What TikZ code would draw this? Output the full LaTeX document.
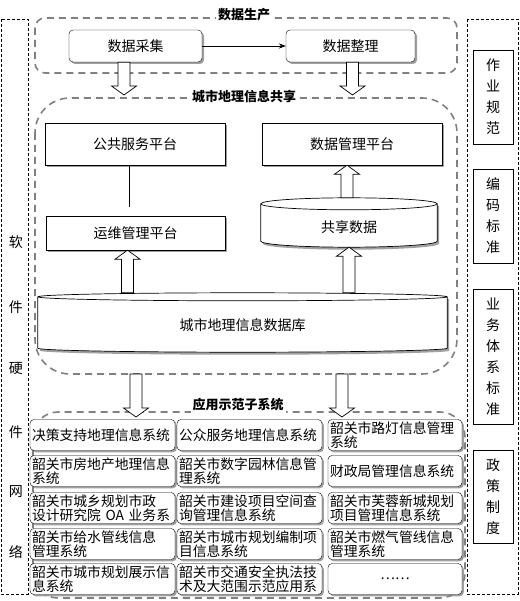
\documentclass[tikz,border=0pt]{standalone}
\usepackage{fontspec}
\setmainfont{Noto Sans CJK SC}
\usepackage{tikz}
\usetikzlibrary{arrows.meta, calc, shadows}
\definecolor{framegray}{RGB}{128,128,128}
\definecolor{shadegray}{RGB}{120,120,120}
\newcommand{\boxfont}{\fontsize{14}{15}\selectfont}
\newcommand{\appfont}{\fontsize{13.8}{13.5}\selectfont}
\newcommand{\titlefont}{\fontsize{13}{14}\selectfont\bfseries}
\newcommand{\stdfont}{\fontsize{14}{21}\selectfont}
\tikzset{
  procbox/.style={rectangle, rounded corners=4pt, draw=black, fill=white,
                  drop shadow={shadow xshift=2pt, shadow yshift=-2pt, fill=shadegray, opacity=.7},
                  minimum height=32pt, font=\boxfont},
  platbox/.style={rectangle, draw=black, fill=white,
                  drop shadow={shadow xshift=2pt, shadow yshift=-2pt, fill=shadegray, opacity=.7},
                  minimum width=180pt, font=\boxfont},
  appbox/.style={rectangle, rounded corners=4pt, draw=black, fill=white,
                 drop shadow={shadow xshift=1.8pt, shadow yshift=-1.8pt, fill=shadegray, opacity=.7},
                 minimum height=31pt, inner xsep=2pt, inner ysep=1pt,
                 align=left, font=\appfont},
  widecol/.style={appbox, text width=141pt},
  narrowcol/.style={appbox, text width=130pt},
  stdbox/.style={rectangle, draw=black, fill=white, minimum width=40pt,
                 align=center, font=\stdfont},
  cylbase/.style={rectangle, minimum width=#1, font=\boxfont},
  grpframe/.style={draw=framegray, line width=1.6pt, dash pattern=on 7pt off 5pt},
  sideframe/.style={draw=black, line width=0.7pt, dash pattern=on 3pt off 2pt},
  grptitle/.style={fill=white, font=\titlefont, inner sep=2pt},
  sidechar/.style={font=\boxfont, inner sep=0pt},
  fatarr/.style={draw=black, fill=white, line width=0.7pt, line join=miter},
  cylline/.style={draw=black, fill=white, line width=0.7pt,
                  drop shadow={shadow xshift=2pt, shadow yshift=-2.5pt, fill=shadegray, opacity=.7}},
  arr/.style={-{Stealth[length=7pt]}, line width=0.7pt},
}
% hollow block arrow between two named points (vertical)
\newcommand{\fatarrow}[2]{%
  \draw[fatarr] let \p1=(#1), \p2=(#2), \p3=($(#2)!9pt!(#1)$) in
    (\x1-6pt,\y1) -- (\x1-6pt,\y3) -- (\x1-12.5pt,\y3) -- (\x2,\y2)
    -- (\x1+12.5pt,\y3) -- (\x1+6pt,\y3) -- (\x1+6pt,\y1) -- cycle;}
% cylinder outline round a named node, #2 = half height of the ellipse
\newcommand{\cylinderbody}[2]{%
  \draw[cylline] let \p1=(#1.north west), \p2=(#1.south east), \n1={(\x2-\x1)/2} in
    (\x1,\y1) -- (\x1,\y2) arc[start angle=180, end angle=360, x radius=\n1, y radius=#2pt]
    -- (\x2,\y1) arc[start angle=0, end angle=180, x radius=\n1, y radius=#2pt] -- cycle
    (\x1,\y1) arc[start angle=180, end angle=360, x radius=\n1, y radius=#2pt];}

\begin{document}
\begin{tikzpicture}[x=1pt, y=-1pt]
  \useasboundingbox (0,0) rectangle (519,601);

  % side frames
  \draw[sideframe] (1,19) rectangle (28,594);
  \draw[sideframe] (467,19) rectangle (518,594);
  \foreach \ch/\yy in {软/242, 件/307, 硬/368, 件/432, 网/492, 络/552}
    \node[sidechar] (side-\yy) at (16,\yy) {\ch};

  % standards column
  \node[stdbox, minimum height=94pt]  (std-work)  at (493,97)    {作\\业\\规\\范};
  \node[stdbox, minimum height=94pt]  (std-code)  at (493,216)   {编\\码\\标\\准};
  \node[stdbox, minimum height=135pt] (std-biz)   at (493,356.5) {业\\务\\体\\系\\标\\准};
  \node[stdbox, minimum height=93pt]  (std-pol)   at (493,496.5) {政\\策\\制\\度};

  % group frames
  \draw[grpframe, rounded corners=10pt] (35,18) rectangle (457,73);
  \draw[grpframe, rounded corners=35pt] (35,98) rectangle (457,374);
  \draw[grpframe, rounded corners=25pt] (33,412) rectangle (465,598);
  \node[grptitle] (t-prod)  at (244,15)  {数据生产};
  \node[grptitle] (t-share) at (244,97)  {城市地理信息共享};
  \node[grptitle] (t-app)   at (238,405) {应用示范子系统};

  % data production
  \node[procbox, minimum width=133pt] (collect) at (135.5,46) {数据采集};
  \node[procbox, minimum width=129pt] (arrange) at (350.5,46) {数据整理};
  \draw[arr] (collect) -- (arrange);

  % sharing platform
  \node[platbox, minimum height=42pt] (pub)    at (135,144)   {公共服务平台};
  \node[platbox, minimum height=42pt] (manage) at (352,144)   {数据管理平台};
  \node[platbox, minimum height=34pt, minimum width=179pt] (ops) at (135.5,233) {运维管理平台};
  \draw[line width=0.7pt] ([xshift=-6pt]pub.south) -- ([xshift=-6.5pt,yshift=9pt]ops.north);

  \node[cylbase=176pt, minimum height=37pt] (share) at (349,222.5) {};
  \cylinderbody{share}{6}
  \node[font=\boxfont] (share-txt) at (349,227) {共享数据};

  \node[cylbase=409pt, minimum height=51pt] (db) at (242.5,322.5) {};
  \cylinderbody{db}{4}
  \node[font=\boxfont] (db-txt) at (242.5,325) {城市地理信息数据库};

  % block arrows
  \coordinate (c-down-l) at ([xshift=-11.5pt]collect.south);
  \coordinate (c-tip-l)  at (124,95);
  \coordinate (c-down-r) at ([xshift=2pt]arrange.south);
  \coordinate (c-tip-r)  at (352.5,95);
  \fatarrow{c-down-l}{c-tip-l}
  \fatarrow{c-down-r}{c-tip-r}

  \coordinate (s-up)     at ($(share.north)+(-2,-6)$);
  \coordinate (m-in)     at ([xshift=-5pt]manage.south);
  \fatarrow{s-up}{m-in}
  \coordinate (db-up-l)  at ($(db.north)+(-115,-4)$);
  \coordinate (ops-in)   at ([xshift=-8pt]ops.south);
  \fatarrow{db-up-l}{ops-in}
  \coordinate (db-up-r)  at ($(db.north -| share.south)+(0,-4)$);
  \coordinate (share-in) at ($(share.south)+(0,6)$);
  \fatarrow{db-up-r}{share-in}

  \coordinate (out-l) at (136,374);
  \coordinate (app-l) at (136,417);
  \coordinate (out-r) at (342,374);
  \coordinate (app-r) at (342,417);
  \fatarrow{out-l}{app-l}
  \fatarrow{out-r}{app-r}

  % application systems
  \node[widecol]   (a11) at (102.5,435) {决策支持地理信息系统};
  \node[widecol]   (a12) at (249.5,435) {公众服务地理信息系统};
  \node[narrowcol] (a13) at (395,435)   {韶关市路灯信息管理\\系统};
  \node[widecol]   (a21) at (102.5,471) {韶关市房地产地理信息\\系统};
  \node[widecol]   (a22) at (249.5,471) {韶关市数字园林信息管\\理系统};
  \node[narrowcol] (a23) at (395,471)   {财政局管理信息系统};
  \node[widecol]   (a31) at (102.5,508) {韶关市城乡规划市政\\设计研究院 OA 业务系};
  \node[widecol]   (a32) at (249.5,508) {韶关市建设项目空间查\\询管理信息系统};
  \node[narrowcol] (a33) at (395,508)   {韶关市芙蓉新城规划\\项目管理信息系统};
  \node[widecol]   (a41) at (102.5,544) {韶关市给水管线信息\\管理系统};
  \node[widecol]   (a42) at (249.5,544) {韶关市城市规划编制项\\目信息系统};
  \node[narrowcol] (a43) at (395,544)   {韶关市燃气管线信息\\管理系统};
  \node[widecol]   (a51) at (102.5,579) {韶关市城市规划展示信\\息系统};
  \node[widecol]   (a52) at (249.5,579) {韶关市交通安全执法技\\术及大范围示范应用系};
  \node[narrowcol, align=center] (a53) at (395,579) {……};
\end{tikzpicture}
\end{document}
